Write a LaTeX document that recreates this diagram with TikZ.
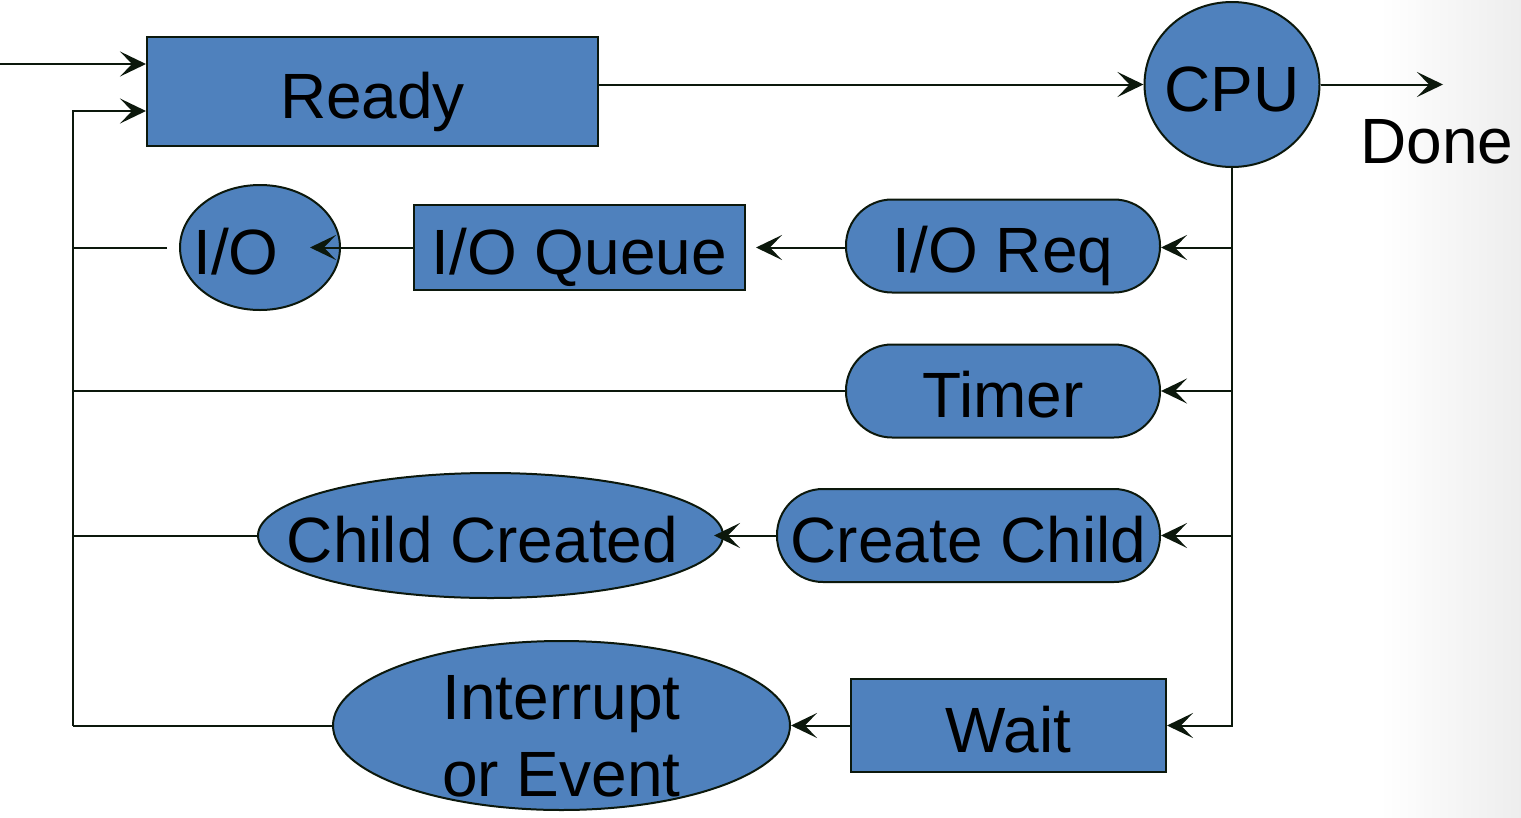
\documentclass[tikz,border=0pt]{standalone}
\usepackage{fontspec}
\setmainfont{Liberation Sans}
\usetikzlibrary{arrows.meta,shapes.geometric}
\definecolor{boxfill}{RGB}{79,129,189}
\definecolor{ink}{RGB}{12,24,12}
\begin{document}
\begin{tikzpicture}[x=1pt,y=-1pt,
  lbl/.style={inner sep=0pt, text=black, font=\fontsize{64}{77}\selectfont},
  one/.style={text height=53pt, text depth=0pt},
  base/.style={lbl, one, draw=ink, line width=2pt, fill=boxfill},
  sq/.style={base, rectangle},
  pill/.style={base, rectangle, rounded corners=46pt},
  oval/.style={draw=ink, line width=2pt, fill=boxfill, ellipse, inner sep=0pt},
  wire/.style={draw=ink, line width=2pt, line join=miter},
  tip/.style={wire, -{Stealth[length=26pt,width=25pt,inset=12pt]}}]

\useasboundingbox (0,0) rectangle (1521,817);
% soft grey fade along the right edge
\shade[left color=white, right color=black!7, draw=none] (1380,0) rectangle (1521,817);

% states and queues
\node[sq, minimum width=451pt, minimum height=109pt] (ready) at (372.5,91.5) {Ready};
\node[oval, minimum width=175pt, minimum height=165pt] (cpu) at (1232,84.5) {};
\node[lbl, one] (cpuT) at (cpu) {CPU};
\node[lbl, one] (done) at (1437,137) {Done};

\node[oval, minimum width=160pt, minimum height=125pt] (io) at (260,247.5) {};
\node[lbl, one] (ioT) at ([xshift=-24pt]io.center) {I/O};
\node[sq, minimum width=331pt, minimum height=85pt] (ioq) at (579.5,247.5) {I/O Queue};
\node[pill, minimum width=314pt, minimum height=93pt] (ioreq) at (1003,246) {I/O Req};

\node[pill, minimum width=314pt, minimum height=93pt] (timer) at (1003,391) {Timer};

\node[oval, minimum width=465pt, minimum height=125pt] (child) at (490.5,535.5) {};
\node[lbl, one] (childT) at ([xshift=-8pt]child.center) {Child Created};
\node[pill, minimum width=383pt, minimum height=93pt] (mkchild) at (968.5,535.5) {Create Child};

\node[oval, minimum width=457pt, minimum height=169pt] (intr) at (561.5,725.5) {};
\node[lbl, align=center] (intrT) at (561.5,736) {Interrupt\\or Event};
\node[sq, minimum width=315pt, minimum height=93pt] (wait) at (1008.5,725.5) {Wait};

% bus points
\coordinate (entry) at (0,64);
\coordinate (lbTop) at (73,111);
\coordinate (busEnd) at (cpu.south |- wait);
\coordinate (exit) at (1443,0);

% entry and dispatch
\draw[tip] (entry) -- (ready.west |- entry);
\draw[tip] (ready.east |- cpu) -- (cpu.west);
\draw[tip] (cpu.east) -- (cpu.east -| exit);

% return path into the ready queue
\draw[tip] (lbTop |- intr) -- (lbTop) -- (ready.west |- lbTop);
\draw[wire] ([xshift=-12pt]io.west) -- (lbTop |- io);
\draw[wire] (timer.west) -- (lbTop |- timer);
\draw[wire] (child.west) -- (lbTop |- child);
\draw[wire] (intr.west) -- (lbTop |- intr);

% CPU fan-out
\draw[tip] (cpu.south) -- (busEnd) -- (wait.east);
\draw[tip] (cpu.south |- io) -- (ioreq.east |- io);
\draw[tip] (cpu.south |- timer) -- (timer.east);
\draw[tip] (cpu.south |- mkchild) -- (mkchild.east);

% forward steps
\draw[tip] (ioreq.west |- io) -- ([xshift=10pt]ioq.east);
\draw[tip] (ioq.west) -- ([xshift=50pt]io.center);
\draw[tip] (mkchild.west) -- ([xshift=-10pt]child.east);
\draw[tip] (wait.west) -- (intr.east);
\end{tikzpicture}
\end{document}
